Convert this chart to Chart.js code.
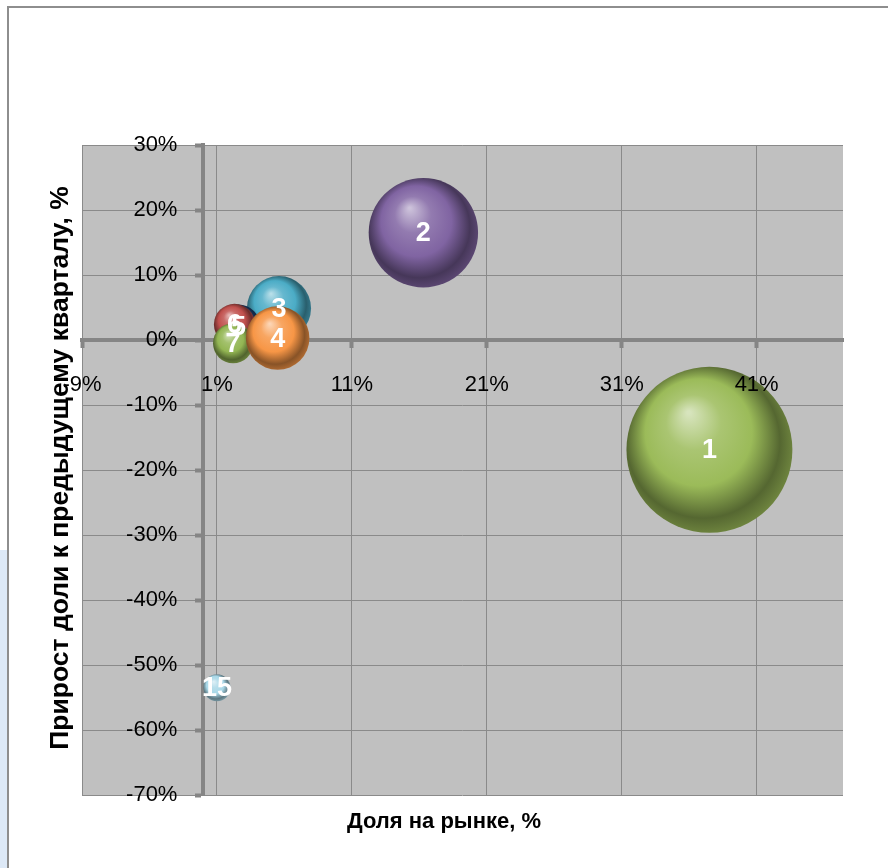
<!DOCTYPE html>
<html lang="ru">
<head>
<meta charset="utf-8">
<title>Доля на рынке и прирост доли</title>
<script src="https://cdn.jsdelivr.net/npm/chart.js@4.4.1/dist/chart.umd.min.js"></script>
<style>
  html, body { margin: 0; padding: 0; background: #fff; }
  #wrap { position: relative; width: 888px; height: 868px; overflow: hidden; }
  #frame { position: absolute; left: 7px; top: 6px; right: -10px; bottom: -10px;
           border-left: 2px solid #8e8e8e; border-top: 2px solid #8e8e8e; }
  #side { position: absolute; left: 0; top: 550px; width: 7px; bottom: 0; background: #dde9f7; }
  canvas { position: absolute; left: 0; top: 0; }
</style>
</head>
<body>
<div id="wrap">
  <div id="side"></div>
  <div id="frame"></div>
  <canvas id="chart" width="888" height="868"></canvas>
</div>
<script>
// Номера компаний (подписи пузырьков)
const companies = ['1', '2', '3', '4', '5', '6', '7', '15'];
// Доля на рынке, % (ось X, она же размер пузырька)
const marketShare = [37.5, 16.3, 5.6, 5.5, 2.6, 2.3, 2.2, 1.0];
// Прирост доли к предыдущему кварталу, % (ось Y)
const shareGrowth = [-16.9, 16.5, 4.9, 0.3, 2.1, 2.4, -0.5, -53.5];

const xTicks = [-9, 1, 11, 21, 31, 41];
const yTicks = [30, 20, 10, 0, -10, -20, -30, -40, -50, -60, -70];

const bubbleColors = ['#9bbb59', '#8064a2', '#4bacc6', '#f79646', '#1f497d', '#c0504d', '#93b653', '#a9d8e8'];
// порядок отрисовки: последний рисуется сверху
const drawOrder = [0, 1, 2, 4, 5, 6, 3, 7];

const FONT = "'Liberation Sans', Arial, sans-serif";
const BUBBLE_K = 13.55; // радиус = k * sqrt(доля)

function shade(hex, f) {
    const n = parseInt(hex.slice(1), 16);
    let r = n >> 16, g = (n >> 8) & 255, b = n & 255;
    const t = f < 0 ? 0 : 255, p = Math.abs(f);
    r = Math.round(r + (t - r) * p);
    g = Math.round(g + (t - g) * p);
    b = Math.round(b + (t - b) * p);
    return `rgb(${r},${g},${b})`;
}

// объёмная заливка "шара"
function sphereFill(ctx) {
    const chart = ctx.chart;
    const pt = ctx.raw;
    if (!pt) return '#999';
    const base = bubbleColors[pt.idx];
    const xs = chart.scales.x, ys = chart.scales.y;
    if (!xs || !ys) return base;
    const cx = xs.getPixelForValue(pt.x), cy = ys.getPixelForValue(pt.y), r = pt.r;
    if (!isFinite(cx) || !isFinite(cy)) return base;
    const g = chart.ctx.createRadialGradient(cx - r * 0.25, cy - r * 0.45, r * 0.02, cx - r * 0.05, cy - r * 0.05, r * 1.06);
    g.addColorStop(0, shade(base, 0.6));
    g.addColorStop(0.3, shade(base, 0.15));
    g.addColorStop(0.6, base);
    g.addColorStop(0.87, shade(base, -0.45));
    g.addColorStop(1, shade(base, -0.3));
    return g;
}

const points = drawOrder.map(i => ({
    x: marketShare[i],
    y: shareGrowth[i],
    r: BUBBLE_K * Math.sqrt(marketShare[i]),
    idx: i
}));

const plotBackground = {
    id: 'plotBackground',
    beforeDraw(chart) {
        const { ctx, chartArea: a } = chart;
        ctx.save();
        ctx.fillStyle = '#c0c0c0';
        ctx.fillRect(a.left, a.top, a.right - a.left, a.bottom - a.top);
        ctx.restore();
    }
};

const bubbleLabels = {
    id: 'bubbleLabels',
    afterDatasetsDraw(chart) {
        const meta = chart.getDatasetMeta(0);
        const c = chart.ctx;
        c.save();
        c.font = 'bold 27px ' + FONT;
        c.fillStyle = '#fff';
        c.textAlign = 'center';
        c.textBaseline = 'middle';
        meta.data.forEach((el, i) => {
            const raw = chart.data.datasets[0].data[i];
            c.fillText(companies[raw.idx], el.x, el.y + 1);
        });
        c.restore();
    }
};

const axisTitles = {
    id: 'axisTitles',
    afterDraw(chart) {
        const c = chart.ctx;
        c.save();
        c.fillStyle = '#000';
        c.textAlign = 'center';
        c.textBaseline = 'middle';
        c.font = 'bold 22px ' + FONT;
        c.fillText('Доля на рынке, %', 444, 822);
        c.font = 'bold 26.5px ' + FONT;
        c.translate(61, 468);
        c.rotate(-Math.PI / 2);
        c.fillText('Прирост доли к предыдущему кварталу, %', 0, 0);
        c.restore();
    }
};

// подписи оси Y отодвигаем влево от оси, как в Excel
function shiftYLabels(scale) {
    if (scale._shifted) return;
    scale._shifted = true;
    const orig = scale.drawLabels.bind(scale);
    scale.drawLabels = function (area) {
        this.ctx.save();
        this.ctx.translate(-26, 0);
        orig(area);
        this.ctx.restore();
    };
}

const gridColor = ctx => (ctx.tick && ctx.tick.value === 0) ? 'rgba(0,0,0,0)' : '#8a8a8a';

new Chart(document.getElementById('chart'), {
    type: 'bubble',
    data: {
        datasets: [{
            label: 'Компании',
            data: points,
            backgroundColor: sphereFill,
            borderWidth: 0
        }]
    },
    options: {
        responsive: false,
        animation: false,
        events: [],
        layout: { autoPadding: false, padding: { left: 82, top: 145, right: 45, bottom: 73 } },
        font: { family: FONT },
        plugins: {
            legend: { display: false },
            tooltip: { enabled: false }
        },
        scales: {
            x: {
                type: 'linear',
                min: -9,
                max: 47.4,
                position: { y: 0 },
                afterBuildTicks: s => { s.ticks = xTicks.map(v => ({ value: v })); },
                ticks: {
                    callback: v => v + '%',
                    color: '#000',
                    font: { family: FONT, size: 22 },
                    padding: 26,
                    maxRotation: 0,
                    autoSkip: false,
                    z: 1
                },
                grid: { color: gridColor, lineWidth: 1, tickLength: 6, tickWidth: 4, tickColor: '#858585' },
                border: { display: true, color: '#858585', width: 4 }
            },
            y: {
                type: 'linear',
                min: -70,
                max: 30,
                position: { x: 0 },
                afterBuildTicks: s => {
                    s.ticks = yTicks.map(v => ({ value: v }));
                    shiftYLabels(s);
                },
                ticks: {
                    callback: v => v + '%',
                    color: '#000',
                    font: { family: FONT, size: 22 },
                    autoSkip: false,
                    z: 1
                },
                grid: { color: gridColor, lineWidth: 1, tickLength: 6, tickWidth: 4, tickColor: '#858585' },
                border: { display: true, color: '#858585', width: 4 }
            }
        }
    },
    plugins: [plotBackground, bubbleLabels, axisTitles]
});
</script>
</body>
</html>
